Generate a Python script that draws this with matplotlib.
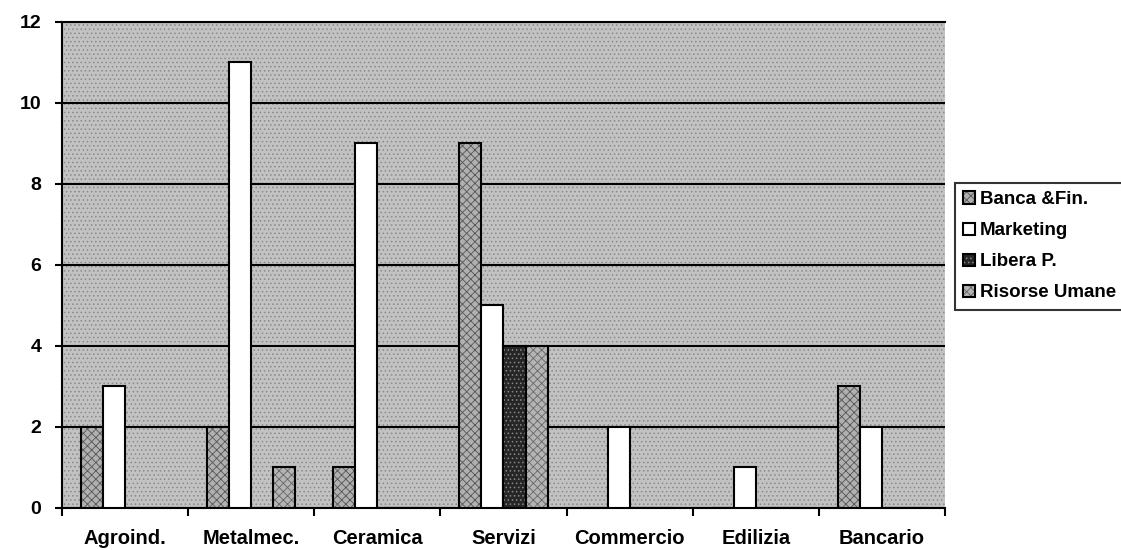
import matplotlib.pyplot as plt
import numpy as np

plt.rcParams['font.family'] = ['Liberation Sans', 'DejaVu Sans']
plt.rcParams['font.weight'] = 'bold'
plt.rcParams['hatch.linewidth'] = 0.6

categories = ["Agroind.", "Metalmec.", "Ceramica", "Servizi", "Commercio", "Edilizia", "Bancario"]
series = ["Banca &Fin.", "Marketing", "Libera P.", "Risorse Umane"]
banca = [2, 2, 1, 9, 0, 0, 3]
marketing = [3, 11, 9, 5, 2, 1, 2]
libera = [0, 0, 0, 4, 0, 0, 0]
risorse = [0, 1, 0, 4, 0, 0, 0]
values = [banca, marketing, libera, risorse]

faces = ["#b0b0b0", "white", "#262626", "#b4b4b4"]
hatches = ["xxxx", None, "....", "xxxx"]
hatch_cols = ["#555555", "black", "#888888", "#666666"]

fig = plt.figure(figsize=(11.21, 5.5), dpi=100)
ax = fig.add_axes([0.0553, 0.0764, 0.7877, 0.8836])
ax.set_facecolor("#c2c2c2")
ax.patch.set_hatch("....")
ax.patch.set_edgecolor("#8a8a8a")
ax.patch.set_linewidth(0)

x = np.arange(len(categories))
w = 0.175
for k, (name, vals) in enumerate(zip(series, values)):
    bars = ax.bar(x + (k - 1.5) * w, vals, width=w, color=faces[k], edgecolor="black",
                  linewidth=1.5, label=name, zorder=3)
    if hatches[k]:
        for b in bars:
            b.set_hatch(hatches[k])
    for b in bars:
        b._hatch_color = plt.matplotlib.colors.to_rgba(hatch_cols[k])

ax.set_ylim(0, 12)
ax.set_xlim(-0.5, 6.5)
ax.set_yticks(range(0, 13, 2))
ax.yaxis.grid(True, color="black", linewidth=1.5, zorder=1)
ax.set_axisbelow(True)

ax.set_xticks(x)
ax.set_xticklabels(categories, fontsize=14.5, fontweight="bold")
ax.set_xticks(np.arange(-0.5, 7, 1), minor=True)
ax.tick_params(axis="x", which="major", length=0, pad=15)
ax.tick_params(axis="x", which="minor", length=6, width=1.5, direction="out")
ax.tick_params(axis="y", length=5, width=1.5, labelsize=14, pad=10)
for t in ax.get_yticklabels():
    t.set_fontweight("bold")

ax.spines["right"].set_visible(False)
for s in ["left", "bottom", "top"]:
    ax.spines[s].set_linewidth(1.5)

leg = ax.legend(loc="upper left", bbox_to_anchor=(1.011, 0.669),
                prop={"weight": "bold", "size": 13.5}, frameon=True, fancybox=False,
                handlelength=0.65, handleheight=0.65, handletextpad=0.25,
                borderpad=0.45, labelspacing=0.75, borderaxespad=0)
leg.get_frame().set_edgecolor("black")
leg.get_frame().set_linewidth(1.5)

fig.savefig("out.png", dpi=100)
